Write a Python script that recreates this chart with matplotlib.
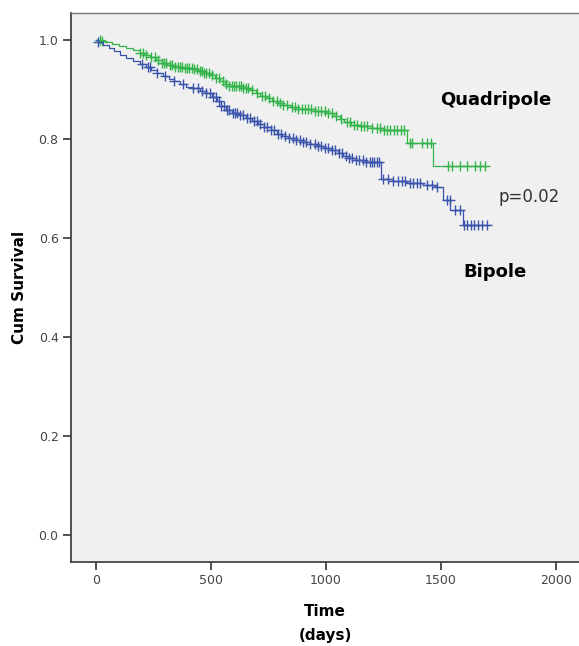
import matplotlib.pyplot as plt
import numpy as np

# Kaplan-Meier steps (time in days, survival after step)
quad_t = [0, 20, 40, 70, 100, 130, 160, 190, 210, 235, 260, 285, 310, 340, 380, 420,
          445, 470, 495, 515, 540, 560, 580, 640, 670, 695, 715, 740, 765, 790, 815,
          845, 880, 950, 1000, 1035, 1060, 1080, 1110, 1150, 1200, 1250, 1351, 1464,
          1700]
quad_s = [1.0, 0.997, 0.995, 0.992, 0.988, 0.984, 0.979, 0.974, 0.97, 0.965, 0.959,
          0.954, 0.95, 0.946, 0.944, 0.942, 0.938, 0.934, 0.929, 0.924, 0.917, 0.911,
          0.907, 0.904, 0.899, 0.893, 0.887, 0.882, 0.877, 0.873, 0.869, 0.865, 0.861,
          0.857, 0.853, 0.847, 0.84, 0.834, 0.829, 0.826, 0.822, 0.818, 0.791, 0.746,
          0.746]
quad_cens = [15, 25, 190, 205, 215, 240, 255, 270, 285, 295, 305, 320, 330, 345, 355,
             365, 375, 385, 395, 405, 415, 425, 440, 450, 460, 470, 480, 490, 505, 520,
             535, 550, 565, 580, 590, 600, 610, 620, 630, 640, 650, 660, 680, 700, 720,
             735, 750, 770, 785, 800, 815, 830, 850, 865, 880, 895, 910, 920, 935, 950,
             965, 980, 995, 1010, 1025, 1045, 1065, 1090, 1105, 1120, 1135, 1150, 1165,
             1180, 1200, 1220, 1235, 1250, 1265, 1280, 1295, 1310, 1325, 1340, 1365,
             1373, 1417, 1439, 1455, 1530, 1548, 1583, 1613, 1648, 1670, 1691]

bip_t = [0, 10, 30, 55, 80, 105, 130, 160, 190, 215, 240, 265, 290, 315, 340, 365, 390,
         420, 450, 480, 505, 525, 545, 565, 590, 620, 650, 680, 705, 730, 760, 785,
         810, 840, 870, 900, 930, 960, 990, 1020, 1050, 1075, 1100, 1130, 1170, 1238,
         1290, 1350, 1420, 1475, 1509, 1540, 1597, 1713]
bip_s = [1.0, 0.995, 0.99, 0.984, 0.977, 0.97, 0.964, 0.958, 0.952, 0.946, 0.94, 0.934,
         0.928, 0.922, 0.917, 0.911, 0.906, 0.902, 0.897, 0.892, 0.885, 0.876, 0.867,
         0.858, 0.852, 0.848, 0.843, 0.837, 0.831, 0.825, 0.818, 0.811, 0.806, 0.801,
         0.797, 0.793, 0.789, 0.785, 0.781, 0.777, 0.771, 0.765, 0.761, 0.757, 0.753,
         0.72, 0.716, 0.712, 0.708, 0.704, 0.677, 0.657, 0.626, 0.626]
bip_cens = [10, 200, 225, 235, 265, 300, 340, 380, 420, 445, 460, 480, 495, 510, 520,
            535, 545, 555, 570, 580, 595, 605, 615, 625, 640, 655, 670, 685, 700, 715,
            730, 745, 760, 775, 790, 805, 820, 840, 855, 870, 885, 900, 915, 930, 950,
            965, 980, 995, 1010, 1025, 1040, 1055, 1070, 1085, 1100, 1115, 1130, 1145,
            1160, 1175, 1190, 1200, 1210, 1220, 1230, 1248, 1270, 1291, 1313, 1330,
            1343, 1365, 1378, 1396, 1409, 1439, 1461, 1483, 1526, 1539, 1561, 1583,
            1600, 1615, 1630, 1645, 1660, 1680, 1700]

xticks = [0, 500, 1000, 1500, 2000]
yticks = [0.0, 0.2, 0.4, 0.6, 0.8, 1.0]

green = '#33b44a'
blue = '#3b54ab'


def surv_at(t, s, times):
    idx = np.searchsorted(t, times, side='right') - 1
    return np.array(s)[idx]


fig = plt.figure(figsize=(5.79, 6.46), dpi=100)
ax = fig.add_axes([71 / 579, 84 / 646, 1 - 71 / 579, (562 - 13) / 646])
ax.set_facecolor('#f0f0f0')

for t, s, c, col in [(quad_t, quad_s, quad_cens, green), (bip_t, bip_s, bip_cens, blue)]:
    ax.plot(t, s, drawstyle='steps-post', color=col, lw=0.9)
    ax.plot(c, surv_at(t, s, c), ls='none', marker='+', ms=7, mew=1.0, color=col)

ax.set_xlim(-109, 2100)
ax.set_ylim(-0.0545, 1.0545)
ax.set_xticks(xticks)
ax.set_yticks(yticks)
ax.set_yticklabels(['%.1f' % v for v in yticks])
ax.tick_params(direction='out', length=6, width=1.2, color='#333333',
               labelsize=9, labelcolor='#444444', pad=3)

for side in ['left', 'bottom']:
    ax.spines[side].set_color('#444444')
    ax.spines[side].set_linewidth(1.3)
ax.spines['top'].set_color('#777777')
ax.spines['top'].set_linewidth(1.0)
ax.spines['right'].set_visible(False)

ax.set_xlabel('Time\n(days)', fontsize=11, fontweight='bold', labelpad=12,
              linespacing=1.7)
ax.set_ylabel('Cum Survival', fontsize=11, fontweight='bold', labelpad=8)

ax.text(1496, 0.879, 'Quadripole', fontsize=13, fontweight='bold', va='center')
ax.text(1596, 0.531, 'Bipole', fontsize=13, fontweight='bold', va='center')
ax.text(1748, 0.683, 'p=0.02', fontsize=12, color='#333333', va='center')

fig.savefig('out.png', dpi=100)
